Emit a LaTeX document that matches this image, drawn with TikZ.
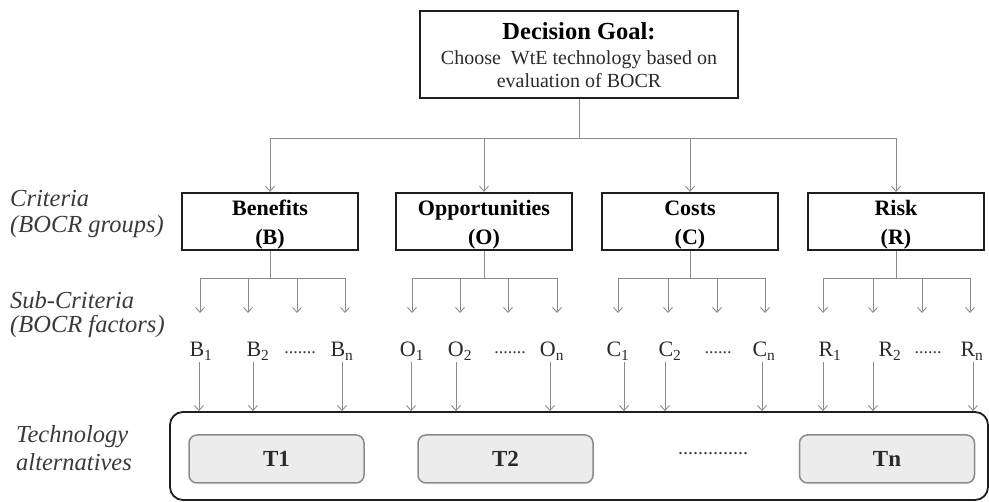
\documentclass[tikz,border=0pt]{standalone}
\usepackage{fontspec}
\setmainfont{Liberation Serif}
\usetikzlibrary{arrows.meta}
\definecolor{arrowgray}{HTML}{8C8C8C}
\definecolor{boxline}{HTML}{1E1E1E}
\definecolor{labgray}{HTML}{3A3A3A}
\definecolor{tfill}{HTML}{ECECEC}
\definecolor{tline}{HTML}{8A8A8A}
\definecolor{txtgray}{HTML}{2A2A2A}
\begin{document}
\begin{tikzpicture}[x=1pt,y=-1pt,
  arr/.style={draw=arrowgray, line width=0.9pt, -{Straight Barb[length=5pt,width=9pt]}},
  conn/.style={draw=arrowgray, line width=0.9pt},
  critbox/.style={draw=boxline, line width=2.2pt, minimum width=176pt, minimum height=57pt, inner sep=0pt, align=center, font=\fontsize{22}{29}\selectfont\bfseries},
  goalbox/.style={draw=boxline, line width=2.2pt, minimum width=318pt, minimum height=87pt, inner sep=0pt},
  goaltxt/.style={anchor=base, inner sep=0pt, text=txtgray, font=\fontsize{20}{20}\selectfont},
  sidelab/.style={anchor=base west, inner sep=0pt, text=labgray, font=\fontsize{24.5}{25}\selectfont\itshape},
  sublab/.style={anchor=base, inner sep=0pt, text=txtgray, font=\fontsize{22}{22}\selectfont},
  dotlab/.style={anchor=base, inner sep=0pt, text=labgray, font=\fontsize{18}{18}\selectfont},
  techbox/.style={draw=tline, fill=tfill, line width=1.5pt, rounded corners=8pt, minimum width=175pt, minimum height=48pt, inner sep=0pt, text=txtgray, font=\fontsize{23}{23}\selectfont\bfseries},
  outerbox/.style={draw=boxline, line width=1.8pt, rounded corners=13pt, minimum width=818pt, minimum height=88pt, inner sep=0pt},
]
\useasboundingbox (0,0) rectangle (989,502);

% goal
\node[goalbox] (goal) at (579,54.5) {};
\node[goaltxt, text=black, font=\fontsize{24.5}{25}\selectfont\bfseries] (g1) at (579,40) {Decision Goal:};
\node[goaltxt] (g2) at (579,65) {Choose~~WtE technology based on};
\node[goaltxt] (g3) at (579,88) {evaluation of BOCR};

% criteria boxes
\node[critbox] (crB) at (270,221.5) {\rule{0pt}{21pt}Benefits\\(B)};
\node[critbox] (crO) at (484,221.5) {\rule{0pt}{21pt}Opportunities\\(O)};
\node[critbox] (crC) at (690,221.5) {\rule{0pt}{21pt}Costs\\(C)};
\node[critbox] (crR) at (896,221.5) {\rule{0pt}{21pt}Risk\\(R)};

% goal to criteria
\draw[conn] (goal.south) -- ++(0,39) coordinate (jG);
\draw[conn] (crB.north |- jG) -- (crR.north |- jG);
\foreach \c in {crB,crO,crC,crR} \draw[arr] (\c.north |- jG) -- (\c.north);

% side labels
\node[sidelab] (l1) at (10,207) {Criteria};
\node[sidelab] (l2) at (10,233) {(BOCR groups)};
\node[sidelab] (l3) at (10,309) {Sub-Criteria};
\node[sidelab] (l4) at (10,333) {(BOCR factors)};
\node[sidelab] (l5) at (16,443) {Technology};
\node[sidelab] (l6) at (16,471) {alternatives};

% upper arrow tips
\foreach \n/\x in {B1/200,B2/248,B3/297,B4/345,O1/412,O2/460,O3/508,O4/557,C1/618,C2/668,C3/717,C4/765,R1/823,R2/873,R3/922,R4/970}
  \coordinate (t\n) at (\x,313);

\foreach \g in {B,O,C,R}{
  \draw[conn] (cr\g.south) -- ++(0,27) coordinate (j\g);
  \draw[conn] (t\g1 |- j\g) -- (t\g4 |- j\g);
  \foreach \k in {1,2,3,4} \draw[arr] (t\g\k |- j\g) -- (t\g\k);
}

% sub-criteria labels
\node[sublab] (sB1) at (201,357) {B\textsubscript{1}};
\node[sublab] (sB2) at (258,357) {B\textsubscript{2}};
\node[sublab] (sBn) at (342,357) {B\textsubscript{n}};
\node[sublab] (sO1) at (412,357) {O\textsubscript{1}};
\node[sublab] (sO2) at (460,357) {O\textsubscript{2}};
\node[sublab] (sOn) at (552,357) {O\textsubscript{n}};
\node[sublab] (sC1) at (618,357) {C\textsubscript{1}};
\node[sublab] (sC2) at (670,357) {C\textsubscript{2}};
\node[sublab] (sCn) at (764,357) {C\textsubscript{n}};
\node[sublab] (sR1) at (830,357) {R\textsubscript{1}};
\node[sublab] (sR2) at (890,357) {R\textsubscript{2}};
\node[sublab] (sRn) at (972,357) {R\textsubscript{n}};

\node[dotlab] (dB) at (300,354) {.......};
\node[dotlab] (dO) at (510,354) {.......};
\node[dotlab] (dC) at (718,354) {......};
\node[dotlab] (dR) at (928,354) {......};

% outer box and technologies
\node[outerbox] (big) at (579,456) {};
\node[techbox] (T1) at (276.5,459) {T1};
\node[techbox] (T2) at (505.5,459) {T2};
\node[techbox] (Tn) at (887,459) {Tn};
\node[anchor=base, inner sep=0pt, text=labgray, font=\fontsize{20}{20}\selectfont] (tdots) at (713,455) {..............};

% lower arrows
\foreach \s/\dx in {sB1/-2,sB2/-5,sBn/0,sO1/-1,sO2/-4,sOn/-2,sC1/6,sC2/-5,sCn/-2,sR1/-7,sR2/-17,sRn/1}
  \draw[arr] ([xshift=\dx pt,yshift=-5pt]\s.base) -- ([xshift=\dx pt]\s.base |- big.north);
\end{tikzpicture}
\end{document}
